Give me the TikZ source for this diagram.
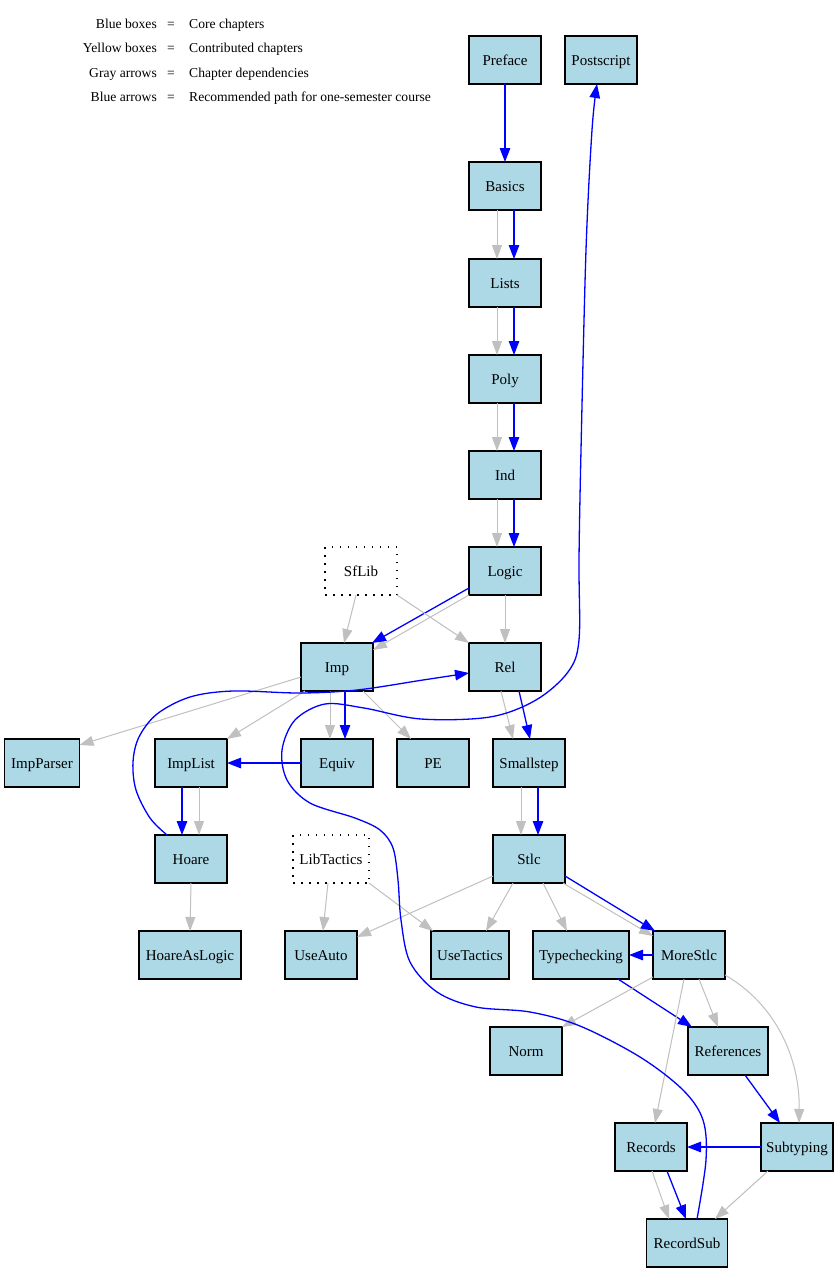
\documentclass[tikz,border=0pt]{standalone}
\usepackage{fontspec}
\setmainfont{Liberation Serif}
\usetikzlibrary{arrows.meta}
\definecolor{lblue}{RGB}{173,216,230}
\definecolor{edgegray}{RGB}{192,192,192}
\tikzset{
  chap/.style={draw=black, fill=lblue, line width=1.2pt, minimum width=72pt, minimum height=48pt,
    inner sep=0pt, outer sep=0pt, text height=13pt, text depth=3pt, font=\fontsize{15}{18}\selectfont},
  libbox/.style={draw=black, dash pattern=on 1.5pt off 6.5pt, line width=1.2pt, fill=white,
    minimum width=72pt, minimum height=48pt, inner sep=0pt, outer sep=0pt,
    text height=13pt, text depth=3pt, font=\fontsize{15}{18}\selectfont},
  grayedge/.style={draw=edgegray, line width=1pt, -{Triangle[length=14pt,width=10pt]}},
  blueedge/.style={draw=blue, line width=1.3pt, -{Triangle[length=14pt,width=10.5pt]}},
  legtext/.style={font=\fontsize{13.6}{16}\selectfont, inner sep=0pt},
}
\begin{document}
\begin{tikzpicture}[x=1pt, y=-1pt]
\fill[white] (0,0) rectangle (839,1272);
\useasboundingbox (0,0) rectangle (839,1272);

% legend
\node[legtext, anchor=base east] (l1a) at (157,28.5) {Blue boxes};
\node[legtext, anchor=base] (l1b) at (171,28.5) {=};
\node[legtext, anchor=base west] (l1c) at (189,28.5) {Core chapters};
\node[legtext, anchor=base east] (l2a) at (157,52.5) {Yellow boxes};
\node[legtext, anchor=base] (l2b) at (171,52.5) {=};
\node[legtext, anchor=base west] (l2c) at (189,52.5) {Contributed chapters};
\node[legtext, anchor=base east] (l3a) at (157,77) {Gray arrows};
\node[legtext, anchor=base] (l3b) at (171,77) {=};
\node[legtext, anchor=base west] (l3c) at (189,77) {Chapter dependencies};
\node[legtext, anchor=base east] (l4a) at (157,101) {Blue arrows};
\node[legtext, anchor=base] (l4b) at (171,101) {=};
\node[legtext, anchor=base west] (l4c) at (189,101) {Recommended path for one-semester course};

% nodes
\node[chap] (Preface) at (505,60) {Preface};
\node[chap] (Postscript) at (601,60) {Postscript};
\node[chap] (Basics) at (505,186) {Basics};
\node[chap] (Lists) at (505,283) {Lists};
\node[chap] (Poly) at (505,379) {Poly};
\node[chap] (Ind) at (505,475) {Ind};
\node[chap] (Logic) at (505,571) {Logic};
\node[libbox] (SfLib) at (361,571) {SfLib};
\node[chap] (Imp) at (337,667) {Imp};
\node[chap] (Rel) at (505,667) {Rel};
\node[chap, minimum width=75pt] (ImpParser) at (42,763) {ImpParser};
\node[chap] (ImpList) at (191,763) {ImpList};
\node[chap] (Equiv) at (337,763) {Equiv};
\node[chap] (PE) at (433,763) {PE};
\node[chap] (Smallstep) at (529,763) {Smallstep};
\node[chap] (Hoare) at (191,859) {Hoare};
\node[libbox, minimum width=76pt] (LibTactics) at (331,859) {LibTactics};
\node[chap] (Stlc) at (529,859) {Stlc};
\node[chap, minimum width=102pt] (HoareAsLogic) at (190,955) {HoareAsLogic};
\node[chap] (UseAuto) at (321,955) {UseAuto};
\node[chap, minimum width=78pt] (UseTactics) at (470,955) {UseTactics};
\node[chap, minimum width=96pt] (Typechecking) at (581,955) {Typechecking};
\node[chap] (MoreStlc) at (689,955) {MoreStlc};
\node[chap] (Norm) at (526,1051) {Norm};
\node[chap, minimum width=80pt] (References) at (728,1051) {References};
\node[chap] (Records) at (651,1147) {Records};
\node[chap] (Subtyping) at (797,1147) {Subtyping};
\node[chap, minimum width=81pt] (RecordSub) at (687,1243) {RecordSub};

% straight chain
\draw[blueedge] (Preface.south) -- (Basics.north);
\draw[grayedge] ([xshift=-8pt]Basics.south) -- ([xshift=-8pt]Lists.north);
\draw[blueedge] ([xshift=9pt]Basics.south) -- ([xshift=9pt]Lists.north);
\draw[grayedge] ([xshift=-8pt]Lists.south) -- ([xshift=-8pt]Poly.north);
\draw[blueedge] ([xshift=9pt]Lists.south) -- ([xshift=9pt]Poly.north);
\draw[grayedge] ([xshift=-8pt]Poly.south) -- ([xshift=-8pt]Ind.north);
\draw[blueedge] ([xshift=9pt]Poly.south) -- ([xshift=9pt]Ind.north);
\draw[grayedge] ([xshift=-8pt]Ind.south) -- ([xshift=-8pt]Logic.north);
\draw[blueedge] ([xshift=9pt]Ind.south) -- ([xshift=9pt]Logic.north);

% Logic / SfLib
\draw[grayedge] (Logic.south west) -- ([yshift=-7pt]Imp.north east);
\draw[blueedge] ([yshift=-17pt]Logic.west) -- ([xshift=-1pt]Imp.north east);
\draw[grayedge] (Logic.south) -- (Rel.north);
\draw[grayedge] ([xshift=-5pt]SfLib.south) -- ([xshift=7pt]Imp.north);
\draw[grayedge] (SfLib.south east) -- (Rel.north west);

% Imp
\draw[grayedge] ([yshift=-10pt]Imp.west) -- ([yshift=-6pt]ImpParser.north east);
\draw[grayedge] ([xshift=4pt]Imp.south west) -- (ImpList.north east);
\draw[grayedge] ([xshift=-7pt]Imp.south) -- ([xshift=-7pt]Equiv.north);
\draw[blueedge] ([xshift=8pt]Imp.south) -- ([xshift=8pt]Equiv.north);
\draw[grayedge] ([xshift=26pt]Imp.south) -- ([xshift=-22pt]PE.north);
\draw[blueedge] (Equiv.west) -- (ImpList.east);

% Rel
\draw[grayedge] ([xshift=-4pt]Rel.south) -- ([xshift=-16pt]Smallstep.north);
\draw[blueedge] ([xshift=14pt]Rel.south) -- ([xshift=1pt]Smallstep.north);

% ImpList / Hoare
\draw[grayedge] ([xshift=8pt]ImpList.south) -- ([xshift=8pt]Hoare.north);
\draw[blueedge] ([xshift=-9pt]ImpList.south) -- ([xshift=-9pt]Hoare.north);
\draw[grayedge] (Hoare.south) -- (HoareAsLogic.north);

% Hoare -> Rel curve
\coordinate (hoareTop) at ([xshift=-24pt]Hoare.north);
\coordinate (relLeft) at ([yshift=-6pt]Rel.west);
\draw[blueedge] plot[smooth, tension=0.55] coordinates {(hoareTop) (150,818) (136,790) (133,762) (139,737) (157,714) (190,697) (233,691) (300,693) (357,690) (423,680) (relLeft)};

% LibTactics
\draw[grayedge] ([xshift=-3pt]LibTactics.south) -- ([xshift=2pt]UseAuto.north);
\draw[grayedge] (LibTactics.south east) -- ([xshift=2pt]UseTactics.north west);

% Smallstep / Stlc
\draw[grayedge] ([xshift=-8pt]Smallstep.south) -- ([xshift=-8pt]Stlc.north);
\draw[blueedge] ([xshift=9pt]Smallstep.south) -- ([xshift=9pt]Stlc.north);
\draw[grayedge] ([yshift=-17pt]Stlc.west) -- ([yshift=18pt]UseAuto.east);
\draw[grayedge] ([xshift=-16pt]Stlc.south) -- ([xshift=16pt]UseTactics.north);
\draw[grayedge] ([xshift=14pt]Stlc.south) -- ([xshift=-14pt]Typechecking.north);
\draw[grayedge] ([xshift=-2pt]Stlc.south east) -- ([yshift=-5pt]MoreStlc.north west);
\draw[blueedge] ([yshift=-17pt]Stlc.east) -- ([xshift=2pt]MoreStlc.north west);

% MoreStlc
\draw[blueedge] (MoreStlc.west) -- (Typechecking.east);
\draw[blueedge] ([xshift=-11pt]Typechecking.south east) -- ([xshift=4pt]References.north west);
\draw[grayedge] ([yshift=-22pt]MoreStlc.west) -- (Norm.north east);
\draw[grayedge] ([xshift=10pt]MoreStlc.south) -- ([xshift=-10pt]References.north);
\draw[grayedge] ([xshift=-5pt]MoreStlc.south) -- ([xshift=4pt]Records.north);
\draw[grayedge] ([yshift=-20pt]MoreStlc.east) .. controls (777,1005) and (800,1060) .. ([xshift=2pt]Subtyping.north);

% lower part
\draw[blueedge] ([xshift=17pt]References.south) -- ([xshift=-17pt]Subtyping.north);
\draw[blueedge] (Subtyping.west) -- (Records.east);
\draw[grayedge] ([xshift=1pt]Records.south) -- ([xshift=-18pt]RecordSub.north);
\draw[blueedge] ([xshift=16pt]Records.south) -- ([xshift=-1pt]RecordSub.north);
\draw[grayedge] ([xshift=-29pt]Subtyping.south) -- ([xshift=28pt]RecordSub.north);

% RecordSub -> Postscript curve
\coordinate (rsTop) at ([xshift=10pt]RecordSub.north);
\coordinate (psBot) at ([xshift=-4pt]Postscript.south);
\draw[blueedge] plot[smooth, tension=0.55] coordinates {(rsTop) (706,1160) (703,1120) (683,1090) (640,1057) (580,1026) (530,1012) (476,1007) (437,992) (410,962) (401,920) (398,880) (393,848) (380,830) (355,818) (310,803) (287,780) (282,750) (295,720) (325,704) (364,708) (421,719) (490,717) (536,700) (568,672) (579,640) (579,560) (581,450) (586,250) (592,130) (psBot)};
\end{tikzpicture}
\end{document}
